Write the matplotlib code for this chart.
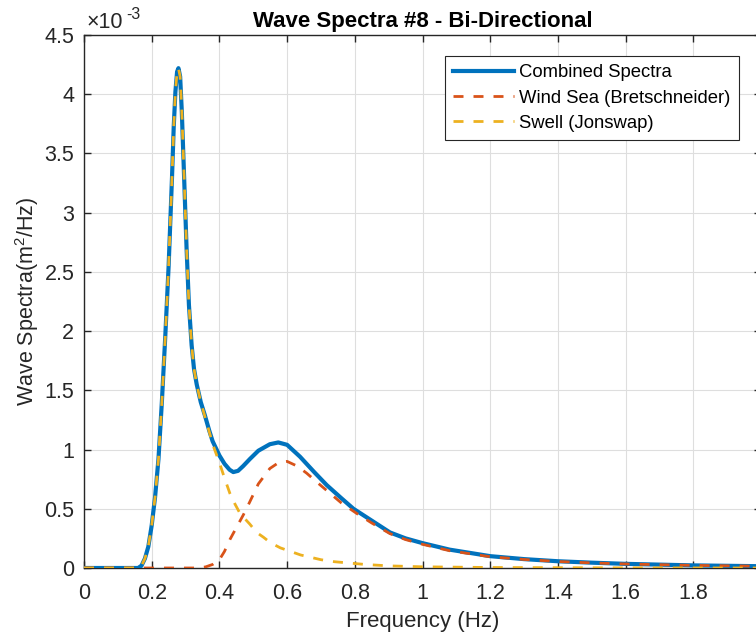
"""Wave spectra #8 - bi-directional sea state (wind sea + swell)."""

import matplotlib

matplotlib.use("Agg")
import matplotlib.pyplot as plt
from matplotlib.ticker import FuncFormatter, MultipleLocator

# values, spectra in 1e-3 m^2/Hz
swell_f = [0.0, 0.10, 0.16, 0.17, 0.18, 0.19, 0.20, 0.21, 0.22, 0.23, 0.24,
           0.25, 0.26, 0.265, 0.27, 0.275, 0.279, 0.284, 0.289, 0.296, 0.303,
           0.310, 0.318, 0.325, 0.333, 0.345, 0.357, 0.37, 0.382, 0.40, 0.415,
           0.431, 0.446, 0.461, 0.49, 0.51, 0.53, 0.55, 0.58, 0.64, 0.70, 0.74,
           0.83, 0.90, 1.0, 1.2, 1.5, 2.0]
swell_s = [0.0, 0.0, 0.0, 0.02, 0.08, 0.18, 0.36, 0.60, 0.92, 1.40, 1.95,
           2.55, 3.30, 3.72, 4.02, 4.19, 4.22, 4.15, 3.85, 3.28, 2.70,
           2.22, 1.88, 1.68, 1.55, 1.40, 1.28, 1.15, 1.03, 0.89, 0.76,
           0.63, 0.54, 0.46, 0.37, 0.30, 0.26, 0.215, 0.17, 0.11, 0.07, 0.053,
           0.03, 0.018, 0.01, 0.004, 0.0015, 0.0]

wind_f = [0.0, 0.30, 0.34, 0.36, 0.38, 0.40, 0.415, 0.431, 0.45, 0.471, 0.49,
          0.515, 0.549, 0.575, 0.60, 0.63, 0.658, 0.69, 0.727, 0.76, 0.806,
          0.85, 0.904, 0.95, 1.0, 1.08, 1.2, 1.3, 1.4, 1.5, 1.6, 1.8, 2.0]
wind_s = [0.0, 0.0, 0.0, 0.01, 0.03, 0.07, 0.14, 0.24, 0.34, 0.45, 0.56,
          0.71, 0.84, 0.89, 0.90, 0.86, 0.80, 0.72, 0.63, 0.55, 0.46,
          0.38, 0.29, 0.24, 0.20, 0.146, 0.095, 0.072, 0.055, 0.043, 0.034,
          0.022, 0.015]

comb_f = [0.0, 0.10, 0.16, 0.17, 0.18, 0.19, 0.20, 0.21, 0.22, 0.23, 0.24,
          0.25, 0.26, 0.265, 0.27, 0.275, 0.279, 0.284, 0.289, 0.296, 0.303,
          0.310, 0.318, 0.325, 0.333, 0.345, 0.357, 0.37, 0.38, 0.40, 0.415,
          0.43, 0.441, 0.455, 0.47, 0.49, 0.515, 0.549, 0.574, 0.60, 0.638,
          0.68, 0.717, 0.76, 0.796, 0.85, 0.904, 0.95, 1.0, 1.08, 1.2, 1.3,
          1.4, 1.5, 1.6, 1.8, 2.0]
comb_s = [0.0, 0.0, 0.0, 0.02, 0.08, 0.18, 0.36, 0.60, 0.92, 1.40, 1.95,
          2.55, 3.30, 3.72, 4.02, 4.19, 4.22, 4.15, 3.85, 3.28, 2.70,
          2.22, 1.88, 1.68, 1.55, 1.40, 1.29, 1.16, 1.07, 0.95, 0.88,
          0.83, 0.81, 0.82, 0.86, 0.92, 0.99, 1.045, 1.06, 1.04, 0.94,
          0.81, 0.70, 0.59, 0.50, 0.40, 0.30, 0.25, 0.21, 0.155, 0.10, 0.075,
          0.057, 0.045, 0.035, 0.022, 0.015]

BLUE = "#0072BD"
ORANGE = "#D95319"
YELLOW = "#EDB120"
AXC = "#262626"

plt.rcParams["font.family"] = ["Liberation Sans", "DejaVu Sans"]
plt.rcParams["mathtext.fontset"] = "custom"
plt.rcParams["mathtext.rm"] = "Liberation Sans"

W, H = 756, 636
fig = plt.figure(figsize=(W / 100, H / 100), dpi=100)
# the reference is cropped on the right, so the axes run past the figure edge
ax = fig.add_axes([84 / W, 1 - 568 / H, (761 - 84) / W, (568 - 35) / H])

ax.plot(comb_f, [v * 1e-3 for v in comb_s], color=BLUE, lw=3.0,
        label="Combined Spectra", zorder=3)
ax.plot(wind_f, [v * 1e-3 for v in wind_s], color=ORANGE, lw=2.0,
        ls=(0, (3.6, 3.6)), label="Wind Sea (Bretschneider)", zorder=4)
ax.plot(swell_f, [v * 1e-3 for v in swell_s], color=YELLOW, lw=2.0,
        ls=(0, (3.6, 3.6)), label="Swell (Jonswap)", zorder=5)

ax.set_xlim(0, 2)
ax.set_ylim(0, 4.5e-3)
ax.xaxis.set_major_locator(MultipleLocator(0.2))
ax.yaxis.set_major_locator(MultipleLocator(0.5e-3))
ax.xaxis.set_major_formatter(FuncFormatter(lambda v, p: f"{v:g}"))
ax.yaxis.set_major_formatter(FuncFormatter(lambda v, p: f"{round(v * 1e3, 2):g}"))

ax.grid(True, color="#dedede", lw=0.8)
ax.set_axisbelow(True)
for s in ax.spines.values():
    s.set_color(AXC)
    s.set_linewidth(1.0)
ax.tick_params(direction="in", length=5, width=1, colors=AXC, labelsize=15.5,
               top=True, right=True)
ax.tick_params(axis="x", pad=11)
ax.tick_params(axis="y", pad=7)

ax.set_title("Wave Spectra #8 - Bi-Directional", fontsize=16,
             fontweight="bold", color="black", pad=6)
ax.set_xlabel("Frequency (Hz)", fontsize=16, color=AXC, labelpad=5)
ax.set_ylabel(r"Wave Spectra(m$^2$/Hz)", fontsize=15.5, color=AXC)
ax.yaxis.set_label_coords(-0.064, 0.5)

# MATLAB style exponent label above the y axis
fig.text(87 / W, 1 - 28 / H, "\u00d710", fontsize=15.5, color=AXC,
         ha="left", va="baseline")
fig.text(126 / W, 1 - 19 / H, "-3", fontsize=11.5, color=AXC,
         ha="left", va="baseline")

leg = ax.legend(loc="upper right", bbox_to_anchor=(739 / W, 1 - 56 / H),
                bbox_transform=fig.transFigure, fontsize=13.3, fancybox=False,
                edgecolor=AXC, framealpha=1, handlelength=3.3,
                handletextpad=0.27, borderpad=0.45, labelspacing=0.45,
                borderaxespad=0)
leg.get_frame().set_linewidth(0.8)

fig.savefig("out.png", dpi=100)
